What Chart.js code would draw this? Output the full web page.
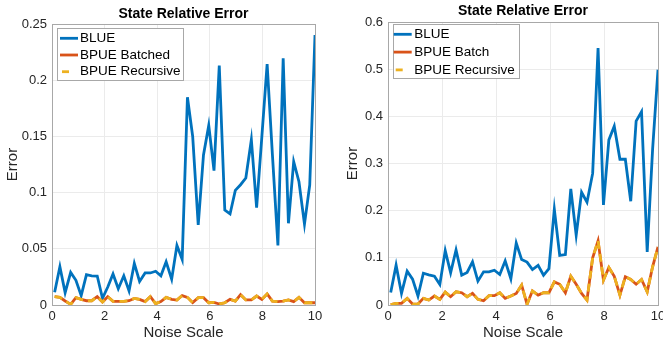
<!DOCTYPE html>
<html>
<head>
<meta charset="utf-8">
<script src="https://cdn.jsdelivr.net/npm/chart.js@4.4.0/dist/chart.umd.min.js"></script>
<style>
  html, body { margin: 0; padding: 0; background: #fff; overflow: hidden; width: 663px; height: 345px; }
  canvas { position: absolute; top: 0; }
  #leftChart { left: 0; }
  #rightChart { left: 331px; }
</style>
</head>
<body>
<canvas id="leftChart" width="331" height="345"></canvas>
<canvas id="rightChart" width="340" height="345"></canvas>
<script>
// noise scale values (50 runs, 0.1 .. 10)
var noiseScale = [0.1, 0.3, 0.5, 0.71, 0.91, 1.11, 1.31, 1.51, 1.72, 1.92,
  2.12, 2.32, 2.52, 2.73, 2.93, 3.13, 3.33, 3.54, 3.74, 3.94,
  4.14, 4.34, 4.55, 4.75, 4.95, 5.15, 5.35, 5.56, 5.76, 5.96,
  6.16, 6.36, 6.57, 6.77, 6.97, 7.17, 7.37, 7.58, 7.78, 7.98,
  8.18, 8.38, 8.59, 8.79, 8.99, 9.19, 9.39, 9.6, 9.8, 10];

// left panel
var leftBlue = [0.0113, 0.034, 0.011, 0.029, 0.022, 0.0083, 0.027, 0.026, 0.0258, 0.006,
  0.016, 0.0276, 0.0145, 0.026, 0.0125, 0.037, 0.021, 0.0285, 0.0285, 0.030,
  0.026, 0.0385, 0.023, 0.053, 0.0406, 0.1848, 0.1498, 0.0712, 0.1335, 0.1598,
  0.1195, 0.213, 0.0845, 0.081, 0.102, 0.107, 0.113, 0.147, 0.0866, 0.150,
  0.2144, 0.134, 0.053, 0.2195, 0.0727, 0.1275, 0.1097, 0.072, 0.1068, 0.2402];
var leftBpue = [0.0074, 0.0068, 0.0036, 0.0006, 0.0065, 0.005, 0.0038, 0.0038, 0.0074, 0.0027,
  0.0074, 0.0033, 0.0033, 0.0033, 0.0038, 0.0059, 0.005, 0.003, 0.0074, 0.0012,
  0.003, 0.0068, 0.005, 0.0044, 0.0084, 0.0068, 0.0021, 0.0065, 0.0065, 0.002,
  0.0024, 0.0009, 0.002, 0.005, 0.0035, 0.0092, 0.0045, 0.0045, 0.008, 0.005,
  0.0098, 0.0035, 0.003, 0.0035, 0.0045, 0.003, 0.0068, 0.002, 0.002, 0.002];
var leftYTicks = [0, 0.05, 0.1, 0.15, 0.2, 0.25];

// right panel
var rightBlue = [0.0267, 0.0844, 0.0246, 0.0717, 0.0549, 0.019, 0.0675, 0.064, 0.0612, 0.0436,
  0.1153, 0.0682, 0.1167, 0.0633, 0.069, 0.0914, 0.0506, 0.0703, 0.0703, 0.0738,
  0.0647, 0.0935, 0.0556, 0.1315, 0.0963, 0.091, 0.075, 0.084, 0.063, 0.077,
  0.203, 0.105, 0.107, 0.246, 0.148, 0.239, 0.218, 0.279, 0.545, 0.212,
  0.350, 0.379, 0.309, 0.309, 0.220, 0.390, 0.410, 0.1125, 0.33, 0.499];
var rightBpue = [0.001, 0.0035, 0.0035, 0.014, 0.002, 0.002, 0.014, 0.0105, 0.019, 0.012,
  0.0274, 0.0176, 0.028, 0.026, 0.0176, 0.0246, 0.012, 0.009, 0.0197, 0.0197,
  0.026, 0.014, 0.019, 0.0246, 0.042, 0.0015, 0.030, 0.021, 0.026, 0.026,
  0.049, 0.044, 0.026, 0.061, 0.044, 0.0246, 0.0105, 0.10, 0.136, 0.053,
  0.0795, 0.061, 0.021, 0.060, 0.054, 0.044, 0.054, 0.028, 0.081, 0.123];
var rightYTicks = [0, 0.1, 0.2, 0.3, 0.4, 0.5, 0.6];

var xTicks = [0, 2, 4, 6, 8, 10];

Chart.defaults.font.family = '"Liberation Sans", Arial, Helvetica, sans-serif';
Chart.defaults.color = '#262626';

function points(values) {
  return noiseScale.map((x, i) => ({x: x, y: values[i]}));
}

// axes box + legend drawn inside the plot area (matlab style)
var boxLegend = {
  id: 'boxLegend',
  afterDraw(chart, args, opts) {
    var ctx = chart.ctx;
    var a = chart.chartArea;
    ctx.save();
    ctx.strokeStyle = '#a8a8a8';
    ctx.lineWidth = 1;
    ctx.strokeRect(Math.round(a.left) + 0.5, Math.round(a.top) + 0.5,
      Math.round(a.right - a.left), Math.round(a.bottom - a.top));

    var x = a.left + opts.dx, y = a.top + opts.dy;
    ctx.fillStyle = '#fff';
    ctx.fillRect(x, y, opts.w, opts.h);
    ctx.strokeRect(Math.round(x) + 0.5, Math.round(y) + 0.5, opts.w, opts.h);
    ctx.font = '13.5px "Liberation Sans", Arial, sans-serif';
    ctx.textBaseline = 'middle';
    chart.data.datasets.forEach((ds, i) => {
      var ly = y + opts.first + i * opts.row;
      ctx.strokeStyle = ds.borderColor;
      ctx.lineWidth = ds.borderWidth;
      // the dashed entry only shows one short dash in the key
      ctx.setLineDash(ds.borderDash ? [7, 20] : []);
      ctx.beginPath();
      ctx.moveTo(x + opts.lineStart + (ds.borderDash ? 2 : 0), ly);
      ctx.lineTo(x + opts.lineStart + 18, ly);
      ctx.stroke();
      ctx.setLineDash([]);
      ctx.fillStyle = '#000';
      ctx.fillText(ds.label, x + opts.textStart, ly);
    });
    ctx.restore();
  }
};

function makeChart(id, blue, bpue, names, yTicks, yMax, opt) {
  var ctx = document.getElementById(id);
  var config = {
    type: 'line',
    data: {
      datasets: [
        {label: names[0], data: points(blue), borderColor: '#0072BD', borderWidth: 2.8, order: 3},
        {label: names[1], data: points(bpue), borderColor: '#D95319', borderWidth: 2.8, order: 2},
        {label: names[2], data: points(bpue), borderColor: '#EDB120', borderWidth: 2.8, borderDash: [8, 5], order: 1}
      ]
    },
    options: {
      responsive: false,
      animation: false,
      devicePixelRatio: 1,
      elements: {point: {radius: 0}, line: {tension: 0}},
      layout: {padding: {left: 0, right: opt.padRight, top: 0, bottom: 0}},
      plugins: {
        legend: {display: false},
        tooltip: {enabled: false},
        title: {
          display: true,
          text: 'State Relative Error',
          fullSize: false,
          color: '#000',
          font: {size: 14, weight: 'bold'},
          padding: {top: opt.titleTop, bottom: opt.titleBottom}
        },
        boxLegend: opt.legend
      },
      scales: {
        x: {
          type: 'linear',
          min: 0,
          max: 10,
          afterBuildTicks: axis => { axis.ticks = xTicks.map(v => ({value: v})); },
          afterFit: axis => { axis.height = 40; },
          ticks: {padding: 4, font: {size: 13}, maxRotation: 0, callback: v => String(v)},
          grid: {color: '#ebebeb', drawTicks: false},
          border: {display: false},
          title: {display: true, text: 'Noise Scale', font: {size: 15}, padding: {top: 0, bottom: 3}}
        },
        y: {
          type: 'linear',
          min: 0,
          max: yMax,
          afterBuildTicks: axis => { axis.ticks = yTicks.map(v => ({value: v})); },
          afterFit: axis => { axis.width = opt.yWidth; },
          ticks: {padding: 5, font: {size: 13}, callback: v => String(v)},
          grid: {color: '#ebebeb', drawTicks: false},
          border: {display: false},
          title: {display: true, text: 'Error', font: {size: 15}, padding: {top: opt.yTitlePad, bottom: 0}}
        }
      }
    },
    plugins: [boxLegend]
  };
  return new Chart(ctx, config);
}

var leftChart = makeChart('leftChart', leftBlue, leftBpue,
  ['BLUE', 'BPUE Batched', 'BPUE Recursive'], leftYTicks, 0.25, {
    padRight: 16, titleTop: 5.6, titleBottom: 1.6, yWidth: 52, yTitlePad: 3.5,
    legend: {dx: 5, dy: 4, w: 126, h: 52, first: 10.3, row: 16.7, lineStart: 3, textStart: 23}
  });

var rightChart = makeChart('rightChart', rightBlue, rightBpue,
  ['BLUE', 'BPUE Batch', 'BPUE Recursive'], rightYTicks, 0.6, {
    padRight: 13, titleTop: 3.1, titleBottom: 2.1, yWidth: 57, yTitlePad: 13.3,
    legend: {dx: 4.7, dy: 2, w: 126, h: 54, first: 10.3, row: 17.8, lineStart: 1, textStart: 21.6}
  });
</script>
</body>
</html>
